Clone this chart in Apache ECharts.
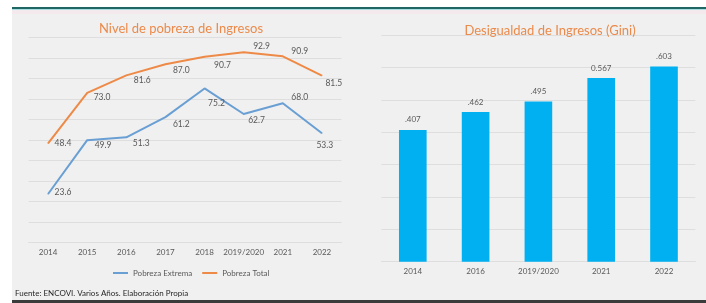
<!DOCTYPE html>
<html>
<head>
<meta charset="utf-8">
<script src="https://cdn.jsdelivr.net/npm/echarts@6/dist/echarts.min.js"></script>
<style>
  html, body { margin: 0; padding: 0; background: #fff; }
  #main { width: 706px; height: 303px; }
</style>
</head>
<body>
<div id="main"></div>
<script>
// --- data ---
var povertyYears = ['2014', '2015', '2016', '2017', '2018', '2019/2020', '2021', '2022'];
var extremePoverty = [23.6, 49.9, 51.3, 61.2, 75.2, 62.7, 68.0, 53.3];
var totalPoverty = [48.4, 73.0, 81.6, 87.0, 90.7, 92.9, 90.9, 81.5];

var giniYears = ['2014', '2016', '2019/2020', '2021', '2022'];
var giniValues = [0.407, 0.462, 0.495, 0.567, 0.603];
var giniLabels = ['.407', '.462', '.495', '0.567', '.603'];

// label nudges (px) so the labels sit where the original ones do
var totalShift = [[6, 0], [6, 4], [7, 5], [7, 6], [9, 9], [9, -6], [8, -5], [3, 8]];
var extremeShift = [[6, -2], [7, 5], [6, 6], [7, 7], [3, 15], [4, 6], [8, -6], [-6, 12]];

var FONT = 'Lato';
var GREY = '#595959';

function withLabels(values, shifts) {
  return values.map(function (v, i) {
    return { value: v, label: { offset: shifts[i] } };
  });
}

var chart = echarts.init(document.getElementById('main'));

var option = {
  animation: false,
  textStyle: { fontFamily: FONT },
  graphic: {
    elements: [
      { type: 'rect', z: -10, shape: { x: 12, y: 9, width: 694, height: 291 }, style: { fill: '#f0f0f0' } },
      { type: 'rect', shape: { x: 12, y: 7, width: 694, height: 2 }, style: { fill: '#1f6664' } },
      { type: 'rect', shape: { x: 12, y: 9, width: 694, height: 1 }, style: { fill: '#a9dfe3' } },
      { type: 'rect', z: -5, shape: { x: 12, y: 10, width: 694, height: 4 }, style: { fill: '#f4e9ec' } },
      { type: 'rect', shape: { x: 12, y: 300, width: 694, height: 3 }, style: { fill: '#3b3b3b' } },
      {
        type: 'text', left: 15, top: 289,
        style: { text: 'Fuente: ENCOVI. Varios Años. Elaboración Propia', fill: '#262626', font: '8px Lato' }
      }
    ]
  },
  title: [
    {
      text: 'Nivel de pobreza de Ingresos',
      left: 176, top: 17, textAlign: 'center',
      textStyle: { color: '#eb8a4a', fontSize: 13, fontWeight: 'normal', fontFamily: FONT }
    },
    {
      text: 'Desigualdad de Ingresos (Gini)',
      left: 545, top: 19, textAlign: 'center',
      textStyle: { color: '#eb8a4a', fontSize: 13, fontWeight: 'normal', fontFamily: FONT }
    }
  ],
  legend: {
    data: ['Pobreza Extrema', 'Pobreza Total'],
    left: 108, top: 264,
    icon: 'rect', itemWidth: 15, itemHeight: 2, itemGap: 10,
    textStyle: { color: GREY, fontSize: 8, fontFamily: FONT }
  },
  grid: [
    { left: 28.5, right: 364.5, top: 37.7, bottom: 60.7 },
    { left: 381.4, right: 10.6, top: 35, bottom: 41.3 }
  ],
  xAxis: [
    {
      gridIndex: 0, type: 'category', data: povertyYears, boundaryGap: true,
      axisLine: { lineStyle: { color: '#dedede' } },
      axisTick: { show: false },
      axisLabel: { color: GREY, fontSize: 8, margin: 6, interval: 0 }
    },
    {
      gridIndex: 1, type: 'category', data: giniYears, boundaryGap: true,
      axisLine: { lineStyle: { color: '#dedede' } },
      axisTick: { show: false },
      axisLabel: { color: GREY, fontSize: 8, margin: 6, interval: 0 }
    }
  ],
  yAxis: [
    {
      gridIndex: 0, type: 'value', min: 0, max: 100, interval: 10,
      axisLabel: { show: false }, axisLine: { show: false }, axisTick: { show: false },
      splitLine: { lineStyle: { color: '#dedede' } }
    },
    {
      gridIndex: 1, type: 'value', min: 0, max: 0.7, interval: 0.1,
      axisLabel: { show: false }, axisLine: { show: false }, axisTick: { show: false },
      splitLine: { lineStyle: { color: '#dedede' } }
    }
  ],
  series: [
    {
      name: 'Pobreza Extrema', type: 'line', xAxisIndex: 0, yAxisIndex: 0,
      data: withLabels(extremePoverty, extremeShift),
      symbol: 'circle', symbolSize: 1,
      lineStyle: { color: '#6a9fd4', width: 2 },
      itemStyle: { color: '#6a9fd4' },
      label: {
        show: true, position: 'right', distance: 0, color: GREY, fontSize: 8.5,
        formatter: function (p) { return p.value.toFixed(1); }
      }
    },
    {
      name: 'Pobreza Total', type: 'line', xAxisIndex: 0, yAxisIndex: 0,
      data: withLabels(totalPoverty, totalShift),
      symbol: 'circle', symbolSize: 1,
      lineStyle: { color: '#ee8a47', width: 2 },
      itemStyle: { color: '#ee8a47' },
      label: {
        show: true, position: 'right', distance: 0, color: GREY, fontSize: 8.5,
        formatter: function (p) { return p.value.toFixed(1); }
      }
    },
    {
      name: 'Gini', type: 'bar', xAxisIndex: 1, yAxisIndex: 1,
      data: giniValues, barWidth: '44%',
      itemStyle: { color: '#00b0f0' },
      label: {
        show: true, position: 'top', distance: 6, color: GREY, fontSize: 8,
        formatter: function (p) { return giniLabels[p.dataIndex]; }
      }
    }
  ]
};

chart.setOption(option);
</script>
</body>
</html>
